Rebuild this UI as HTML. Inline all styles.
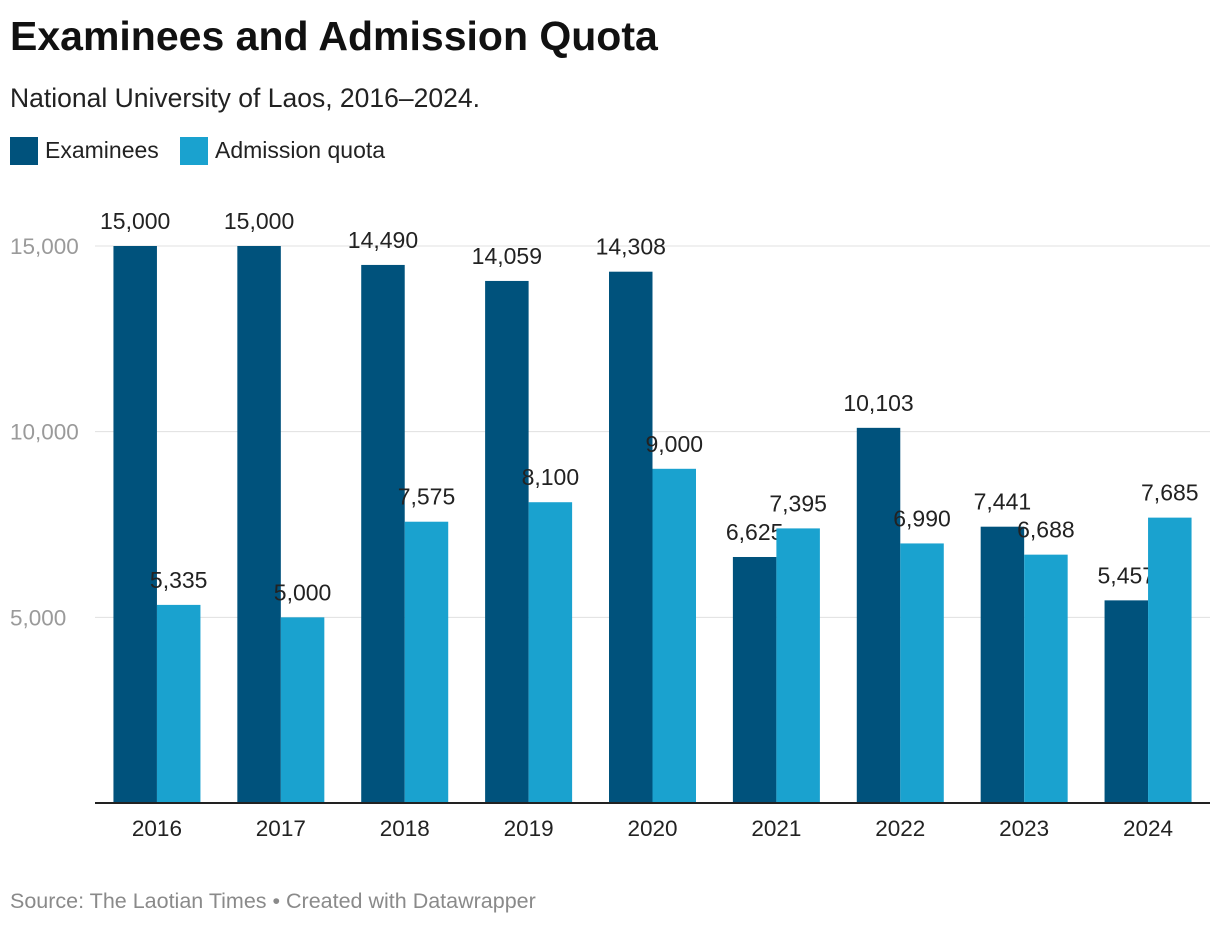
<!DOCTYPE html>
<html><head><meta charset="utf-8"><style>
body{margin:0;background:#fff;width:1220px;height:926px;overflow:hidden;font-family:"Liberation Sans",Roboto,sans-serif;}
</style></head><body>
<svg width="1220" height="926" xmlns="http://www.w3.org/2000/svg" font-family="Liberation Sans, sans-serif">
<text x="10" y="50" font-size="41" font-weight="bold" fill="#111">Examinees and Admission Quota</text>
<text x="10" y="107" font-size="26.5" fill="#222">National University of Laos, 2016–2024.</text>
<g>
<rect x="10" y="137" width="28" height="28" fill="#00527c"/>
<text x="45" y="158" font-size="23" fill="#222">Examinees</text>
<rect x="180" y="137" width="28" height="28" fill="#1aa2cf"/>
<text x="215" y="158" font-size="23" fill="#222">Admission quota</text>
</g>
<g id="plot"></g>
<text x="10" y="908" font-size="21.5" fill="#8a8a8a">Source: The Laotian Times • Created with Datawrapper</text>
</svg>
<script>
const categories=["2016","2017","2018","2019","2020","2021","2022","2023","2024"];
const examinees=[15000,15000,14490,14059,14308,6625,10103,7441,5457];
const admission=[5335,5000,7575,8100,9000,7395,6990,6688,7685];
const yTicks=[5000,10000,15000];
const NS="http://www.w3.org/2000/svg";
const g=document.getElementById('plot');
const x0=95,x1=1210,y0=803,yTop=246,vTop=15000;
const y=v=>y0-(y0-yTop)*v/vTop;
const step=(x1-x0)/categories.length;
const cx=i=>x0+step*(i+0.5);
const bw=43.5;
function el(t,a){const e=document.createElementNS(NS,t);for(const k in a)e.setAttribute(k,a[k]);g.appendChild(e);return e;}
yTicks.forEach(t=>{
 const l=el('line',{x1:x0,x2:x1,y1:y(t),y2:y(t),stroke:'#e0e0e0','stroke-width':1});
 
 
 const tx=el('text',{x:10,y:y(t)+8,'font-size':22.5,fill:'#9a9a9a'});
 tx.textContent=t.toLocaleString('en-US');
 
 
});
categories.forEach((c,i)=>{
 const series=[[examinees[i],'#00527c','examinees',-1],[admission[i],'#1aa2cf','admission',0]];
 series.forEach(([v,col,n,off])=>{
  const bx=cx(i)+off*bw;
  const r=el('rect',{x:bx,y:y(v),width:bw,height:y0-y(v),fill:col});
  
  
  const t=el('text',{x:bx+bw/2,y:y(v)-17,'font-size':23,fill:'#222','text-anchor':'middle'});
  t.textContent=v.toLocaleString('en-US');
  
  
 });
 const xl=el('text',{x:cx(i),y:836,'font-size':22.5,fill:'#222','text-anchor':'middle'});
 xl.textContent=c;
 
 
});
const ax=el('line',{x1:x0,x2:x1,y1:y0,y2:y0,stroke:'#222','stroke-width':2});


</script>
</body></html>
